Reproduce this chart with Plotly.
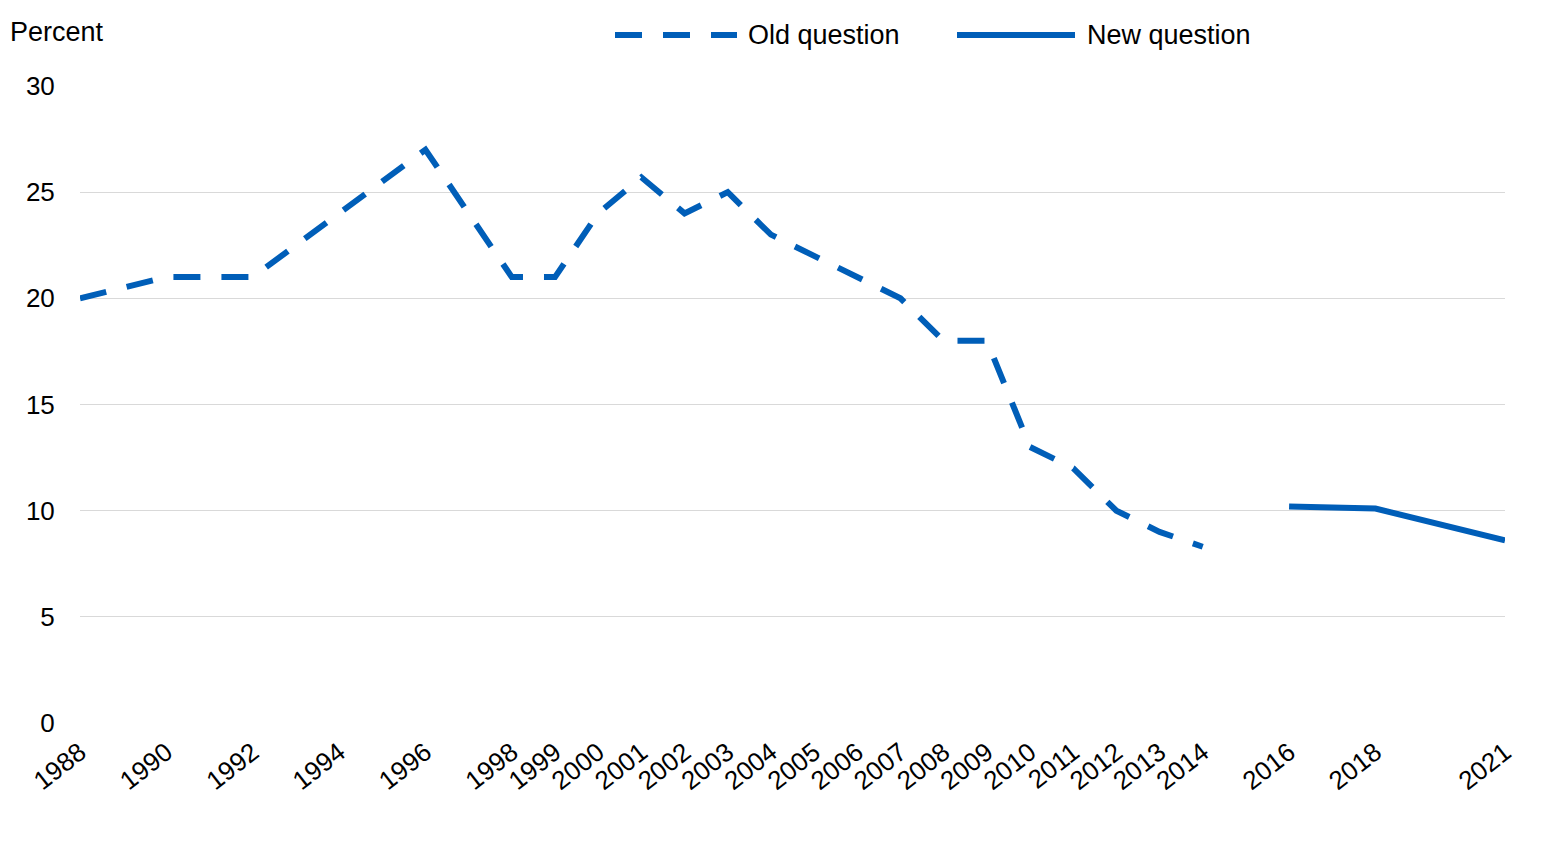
import plotly.graph_objects as go

# Old question (dashed) and new question (solid), percent
OLD_YEARS = [1988, 1990, 1992, 1994, 1996, 1998, 1999, 2000, 2001, 2002, 2003,
             2004, 2005, 2006, 2007, 2008, 2009, 2010, 2011, 2012, 2013, 2014]
OLD_VALUES = [20, 21, 21, 24, 27, 21, 21, 24, 25.7, 24, 25,
              23, 22, 21, 20, 18, 18, 13, 12, 10, 9, 8.3]

NEW_YEARS = [2016, 2018, 2021]
NEW_VALUES = [10.2, 10.1, 8.6]

TICK_YEARS = OLD_YEARS + NEW_YEARS

BLUE = "#005EB8"
FONT = "Liberation Sans, Arial, sans-serif"
DASH = "27px,21px"

# page has an 8px body margin, so the figure is a bit smaller than the window
W, H = 1551, 836
L, R, T, B = 72, 54, 78, 121
PLOT_W = W - L - R
PLOT_H = H - T - B


def px_x(x):
    # figure pixel -> paper fraction
    return (x - L) / PLOT_W


def px_y(y):
    return 1 + (T - y) / PLOT_H


def main():
    fig = go.Figure()

    fig.add_trace(go.Scatter(
        x=OLD_YEARS, y=OLD_VALUES, mode="lines", name="Old question",
        line=dict(color=BLUE, width=6, dash=DASH),
        showlegend=False,
    ))
    fig.add_trace(go.Scatter(
        x=NEW_YEARS, y=NEW_VALUES, mode="lines", name="New question",
        line=dict(color=BLUE, width=6),
        showlegend=False,
    ))

    # legend drawn by hand so the symbols can be long like the original
    ly = px_y(27)
    fig.add_shape(type="line", xref="paper", yref="paper",
                  x0=px_x(607), x1=px_x(729), y0=ly, y1=ly,
                  line=dict(color=BLUE, width=6, dash=DASH))
    fig.add_shape(type="line", xref="paper", yref="paper",
                  x0=px_x(949), x1=px_x(1067), y0=ly, y1=ly,
                  line=dict(color=BLUE, width=6))
    fig.add_annotation(text="Old question", xref="paper", yref="paper",
                       x=px_x(738), y=ly, xanchor="left", yanchor="middle",
                       showarrow=False, font=dict(size=27, color="black", family=FONT))
    fig.add_annotation(text="New question", xref="paper", yref="paper",
                       x=px_x(1077), y=ly, xanchor="left", yanchor="middle",
                       showarrow=False, font=dict(size=27, color="black", family=FONT))
    fig.add_annotation(text="Percent", xref="paper", yref="paper",
                       x=px_x(0), y=px_y(24), xanchor="left", yanchor="middle",
                       showarrow=False, font=dict(size=27, color="black", family=FONT))

    fig.update_xaxes(
        range=[1988, 2021],
        tickmode="array", tickvals=TICK_YEARS, ticktext=[str(y) for y in TICK_YEARS],
        tickangle=-38, showgrid=False, zeroline=False, showline=False,
        ticks="outside", ticklen=3, tickcolor="white",
        tickfont=dict(size=26, color="black", family=FONT),
    )
    fig.update_yaxes(
        range=[0, 30], tickmode="linear", tick0=0, dtick=5,
        showgrid=True, gridcolor="#d9d9d9", gridwidth=1,
        zeroline=False, showline=False,
        ticks="outside", ticklen=19, tickcolor="white",
        tickfont=dict(size=26, color="black", family=FONT),
    )

    fig.update_layout(
        width=W, height=H,
        margin=dict(l=L, r=R, t=T, b=B),
        plot_bgcolor="white", paper_bgcolor="white",
        font=dict(family=FONT, color="black"),
    )

    fig.write_html("out.html")


if __name__ == "__main__":
    main()
